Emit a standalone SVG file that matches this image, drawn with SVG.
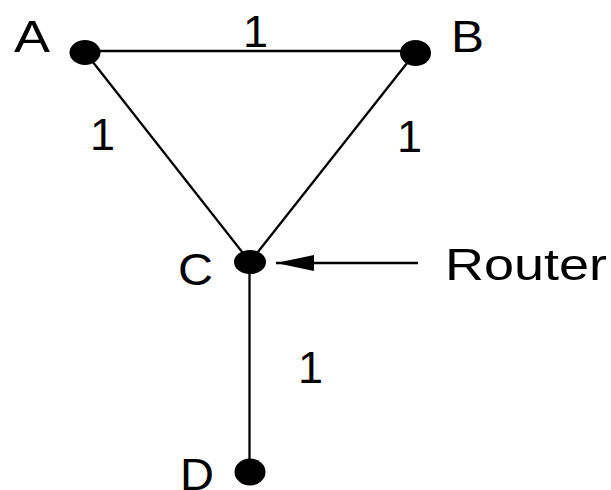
<svg xmlns="http://www.w3.org/2000/svg" width="611" height="490" viewBox="0 0 611 490">
<style>
.lbl{font-family:"Liberation Sans",Arial,sans-serif;font-size:45px;fill:#000}
.edge{stroke:#000;stroke-width:2.3;fill:none}
.dot{fill:#000}
</style>
<defs>
<marker id="ah" markerWidth="40" markerHeight="18" refX="38" refY="8" orient="auto" markerUnits="userSpaceOnUse">
<path d="M0,0 L38,8 L0,16 Z" fill="#000"/>
</marker>
</defs>
<rect width="611" height="490" fill="#fff"/>
<g id="connectors">
<line class="edge" x1="85" y1="51" x2="415" y2="51"/>
<line class="edge" x1="85" y1="52" x2="250" y2="262"/>
<line class="edge" x1="415" y1="53" x2="250" y2="262"/>
<line class="edge" x1="249.5" y1="262" x2="249.5" y2="472"/>
<line class="edge" x1="418" y1="263" x2="276" y2="263" marker-end="url(#ah)"/>
<text class="lbl" x="243" y="47">1</text>
<text class="lbl" x="90" y="150">1</text>
<text class="lbl" x="397" y="152">1</text>
<text class="lbl" x="298" y="383">1</text>
</g>
<g id="A"><ellipse class="dot" cx="85" cy="52.5" rx="15.5" ry="12.5"/><text class="lbl" x="14" y="52" textLength="36" lengthAdjust="spacingAndGlyphs">A</text></g>
<g id="B"><ellipse class="dot" cx="415.5" cy="53" rx="15.5" ry="13"/><text class="lbl" x="451" y="52" textLength="33" lengthAdjust="spacingAndGlyphs">B</text></g>
<g id="C"><ellipse class="dot" cx="250" cy="262" rx="16" ry="12"/><text class="lbl" x="178" y="285" textLength="35" lengthAdjust="spacingAndGlyphs">C</text></g>
<g id="D"><ellipse class="dot" cx="250" cy="472" rx="15.5" ry="13.5"/><text class="lbl" x="180" y="490" textLength="34" lengthAdjust="spacingAndGlyphs">D</text></g>
<g id="Router"><text class="lbl" x="445" y="280" textLength="162" lengthAdjust="spacingAndGlyphs">Router</text></g>
</svg>
